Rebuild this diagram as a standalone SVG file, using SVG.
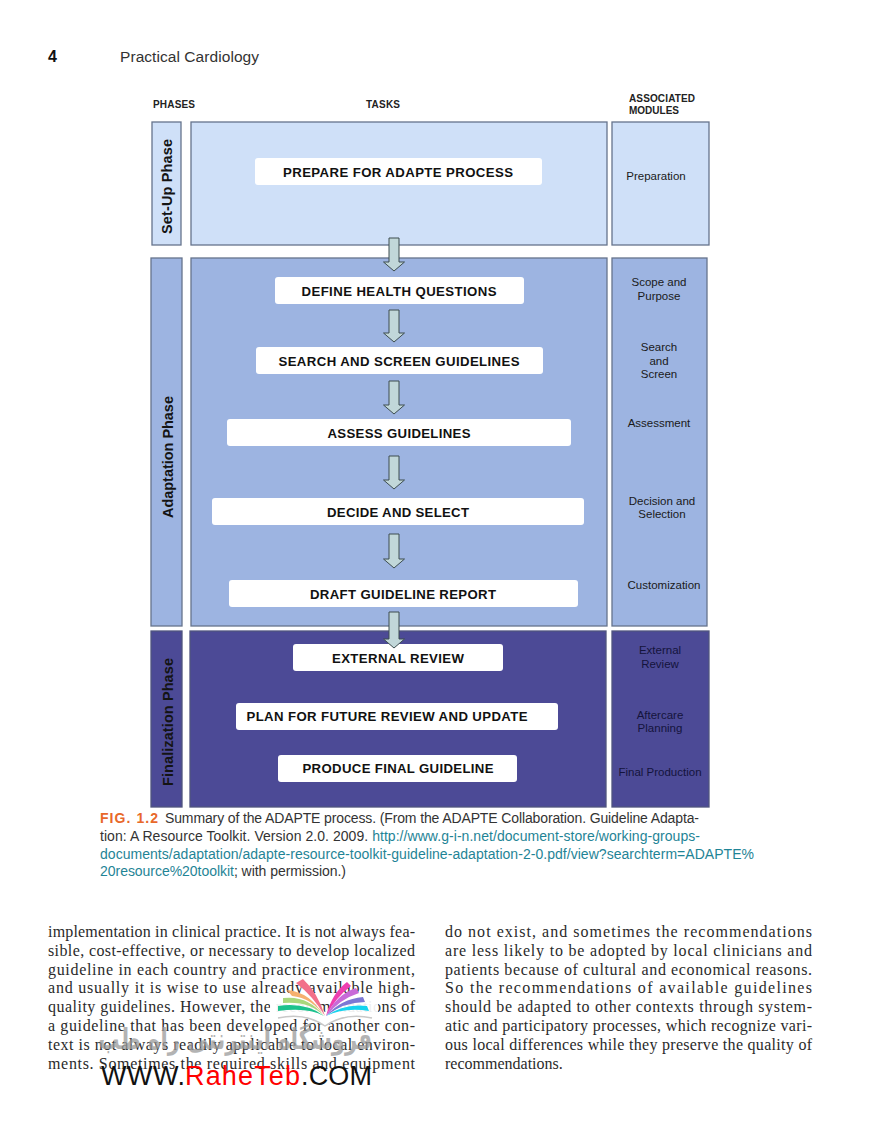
<svg xmlns="http://www.w3.org/2000/svg" width="880" height="1145" viewBox="0 0 880 1145">
<style>
text{font-family:"Liberation Sans",Arial,sans-serif}
.bg{stroke:#66738c;stroke-width:1.3}
.l{fill:#cfe0f8}.m{fill:#9db4e1}.d{fill:#4c4a96;stroke:#50557f}
.task{fill:#fff}
.tl{font-size:13.2px;font-weight:700;fill:#111;text-anchor:middle}
.mod{font-size:11.5px;fill:#1a1a1a;text-anchor:middle}
.modd{font-size:11.5px;fill:#14143c;text-anchor:middle}
.ph{font-size:14.5px;font-weight:700;fill:#141414;text-anchor:middle}
.hd{font-size:10px;font-weight:700;fill:#222}
.ar{fill:#c1d7d9;stroke:#3d4d4f;stroke-width:1}
.cap{font-size:14px;fill:#333}
.lk{fill:#1f8496}
.b{font-family:"Liberation Serif","Times New Roman",serif;font-size:16px;fill:#2a2a2a}
.wm{font-size:27px;fill:#111}
</style>
<rect width="880" height="1145" fill="#fff"/>
<g id="page-header">
<text x="48" y="62" font-size="16" font-weight="700" fill="#111">4</text>
<text x="120" y="62" font-size="15.500" fill="#333" textLength="139">Practical Cardiology</text>
</g>
<g id="column-headers">
<text class="hd" x="153" y="108" textLength="42">PHASES</text>
<text class="hd" x="366" y="108" textLength="34">TASKS</text>
<text class="hd" x="629" y="102" textLength="66">ASSOCIATED</text>
<text class="hd" x="629" y="114" textLength="50">MODULES</text>
</g>
<g id="setup-phase">
<rect class="bg l" x="152" y="122" width="29" height="123"/>
<text class="ph" transform="translate(172 186.500) rotate(-90)" textLength="95">Set-Up Phase</text>
</g>
<g id="setup-tasks"><rect class="bg l" x="191" y="122" width="416" height="123"/></g>
<g id="setup-modules">
<rect class="bg l" x="612" y="122" width="97" height="123"/>
<text class="mod" x="656" y="180">Preparation</text>
</g>
<g id="adaptation-phase">
<rect class="bg m" x="151" y="258" width="31" height="368"/>
<text class="ph" transform="translate(173 457) rotate(-90)" textLength="122">Adaptation Phase</text>
</g>
<g id="adaptation-tasks"><rect class="bg m" x="191" y="258" width="416" height="368"/></g>
<g id="adaptation-modules">
<rect class="bg m" x="612" y="258" width="95" height="368"/>
<text class="mod" x="659" y="286">Scope and</text>
<text class="mod" x="659" y="300">Purpose</text>
<text class="mod" x="659" y="351">Search</text>
<text class="mod" x="659" y="365">and</text>
<text class="mod" x="659" y="378">Screen</text>
<text class="mod" x="659" y="427">Assessment</text>
<text class="mod" x="662" y="505">Decision and</text>
<text class="mod" x="662" y="518">Selection</text>
<text class="mod" x="664" y="589">Customization</text>
</g>
<g id="finalization-phase">
<rect class="bg d" x="151" y="631" width="31" height="176"/>
<text class="ph" transform="translate(173 722) rotate(-90)" textLength="128">Finalization Phase</text>
</g>
<g id="finalization-tasks"><rect class="bg d" x="190" y="631" width="416" height="176"/></g>
<g id="finalization-modules">
<rect class="bg d" x="612" y="631" width="97" height="176"/>
<text class="modd" x="660" y="654">External</text>
<text class="modd" x="660" y="668">Review</text>
<text class="modd" x="660" y="719">Aftercare</text>
<text class="modd" x="660" y="732">Planning</text>
<text class="modd" x="660" y="776">Final Production</text>
</g>
<g id="prepare"><rect class="task" x="255" y="158" width="287" height="27" rx="3"/><text class="tl" x="398" y="176.500" textLength="230">PREPARE FOR ADAPTE PROCESS</text></g>
<g id="define"><rect class="task" x="275" y="277" width="249" height="27" rx="3"/><text class="tl" x="399" y="295.500" textLength="195">DEFINE HEALTH QUESTIONS</text></g>
<g id="search"><rect class="task" x="256" y="347" width="287" height="27" rx="3"/><text class="tl" x="399" y="365.500" textLength="241">SEARCH AND SCREEN GUIDELINES</text></g>
<g id="assess"><rect class="task" x="227" y="419" width="344" height="27" rx="3"/><text class="tl" x="399" y="437.500" textLength="143">ASSESS GUIDELINES</text></g>
<g id="decide"><rect class="task" x="212" y="498" width="372" height="27" rx="3"/><text class="tl" x="398" y="516.500" textLength="142">DECIDE AND SELECT</text></g>
<g id="draft"><rect class="task" x="229" y="580" width="349" height="27" rx="3"/><text class="tl" x="403" y="598.500" textLength="186">DRAFT GUIDELINE REPORT</text></g>
<g id="external"><rect class="task" x="293" y="644" width="210" height="27" rx="3"/><text class="tl" x="398" y="662.500" textLength="132">EXTERNAL REVIEW</text></g>
<g id="plan"><rect class="task" x="236" y="703" width="322" height="27" rx="3"/><text class="tl" x="387" y="721" textLength="281">PLAN FOR FUTURE REVIEW AND UPDATE</text></g>
<g id="produce"><rect class="task" x="278" y="755" width="239" height="27" rx="3"/><text class="tl" x="398" y="773" textLength="191">PRODUCE FINAL GUIDELINE</text></g>
<g id="connectors">
<path class="ar" d="M389 238H399V262H404.500L394 271L383.500 262H389Z"/>
<path class="ar" d="M389 310H399V333H404.500L394 342L383.500 333H389Z"/>
<path class="ar" d="M389 381H399V405H404.500L394 414L383.500 405H389Z"/>
<path class="ar" d="M389 456H399V480H404.500L394 489L383.500 480H389Z"/>
<path class="ar" d="M389 534H399V559H404.500L394 568L383.500 559H389Z"/>
<path class="ar" d="M389 612H399V639H404.500L394 648L383.500 639H389Z"/>
</g>
<g id="caption">
<text class="cap" x="100" y="823" textLength="58" style="fill:#e8682a;font-weight:700">FIG. 1.2</text>
<text class="cap" x="165" y="823" textLength="534">Summary of the ADAPTE process. (From the ADAPTE Collaboration. Guideline Adapta-</text>
<text class="cap" x="100" y="841" textLength="600">tion: A Resource Toolkit. Version 2.0. 2009. <tspan class="lk">http://www.g-i-n.net/document-store/working-groups-</tspan></text>
<text class="cap lk" x="100" y="859" textLength="654" style="fill:#1f8496">documents/adaptation/adapte-resource-toolkit-guideline-adaptation-2-0.pdf/view?searchterm=ADAPTE%</text>
<text class="cap" x="100" y="876" textLength="246"><tspan class="lk">20resource%20toolkit</tspan>; with permission.)</text>
</g>
<g id="body-left">
<text class="b" x="48" y="937" textLength="367">implementation in clinical practice. It is not always fea-</text>
<text class="b" x="48" y="956" textLength="367">sible, cost-effective, or necessary to develop localized</text>
<text class="b" x="48" y="975" textLength="367">guideline in each country and practice environment,</text>
<text class="b" x="48" y="993" textLength="367">and usually it is wise to use already available high-</text>
<text class="b" x="48" y="1012" textLength="367">quality guidelines. However, the recommendations of</text>
<text class="b" x="48" y="1031" textLength="367">a guideline that has been developed for another con-</text>
<text class="b" x="48" y="1050" textLength="367">text is not always readily applicable to local environ-</text>
<text class="b" x="48" y="1069" textLength="367">ments. Sometimes the required skills and equipment</text>
</g>
<g id="body-right">
<text class="b" x="445" y="937" textLength="367">do not exist, and sometimes the recommendations</text>
<text class="b" x="445" y="956" textLength="367">are less likely to be adopted by local clinicians and</text>
<text class="b" x="445" y="975" textLength="367">patients because of cultural and economical reasons.</text>
<text class="b" x="445" y="993" textLength="367">So the recommendations of available guidelines</text>
<text class="b" x="445" y="1012" textLength="367">should be adapted to other contexts through system-</text>
<text class="b" x="445" y="1031" textLength="367">atic and participatory processes, which recognize vari-</text>
<text class="b" x="445" y="1050" textLength="367">ous local differences while they preserve the quality of</text>
<text class="b" x="445" y="1069">recommendations.</text>
</g>
<g id="watermark">
<path d="M270 1000Q300 985 325 1012Q350 985 378 1000V1018Q350 1012 325 1026Q300 1012 270 1018Z" fill="#fff" opacity=".92"/>
<path d="M278 1018Q305 1012 325 1026Q345 1012 372 1018" fill="none" stroke="#c8c8c8" stroke-width="1.500"/>
<path d="M296 983L303 979Q318 993 325 1016Q313 996 296 983Z" fill="#f2708a"/>
<path d="M287 990L292 996Q312 998 324 1016Q310 992 287 990Z" fill="#f5b06e"/>
<path d="M283 998V1003Q310 1001 324 1016Q308 995 283 998Z" fill="#a9d77c"/>
<path d="M278 1006V1011Q308 1007 324 1016Q306 1002 278 1006Z" fill="#1cc28e"/>
<path d="M347 982L351 986Q336 997 326 1016Q332 993 347 982Z" fill="#ee3fb0"/>
<path d="M356 988L359 993Q340 999 326 1016Q337 994 356 988Z" fill="#c86ad8"/>
<path d="M363 997L365 1002Q344 1002 326 1016Q341 999 363 997Z" fill="#7c78d4"/>
<path d="M367 1006L369 1011Q345 1007 326 1016Q344 1003 367 1006Z" fill="#16d3ee"/>
<text transform="translate(372 1049) scale(.73 1)" font-size="29" direction="rtl" font-weight="700" fill="#9a9a9a" opacity=".75" style="font-family:'DejaVu Sans',sans-serif">فروشگاه اینترنتی راه طب</text>
<text class="wm" x="101" y="1085" textLength="84">WWW.</text>
<text class="wm" x="185" y="1085" textLength="115" style="fill:#f00">RaheTeb</text>
<text class="wm" x="301" y="1085" textLength="71">.COM</text>
</g>
</svg>
